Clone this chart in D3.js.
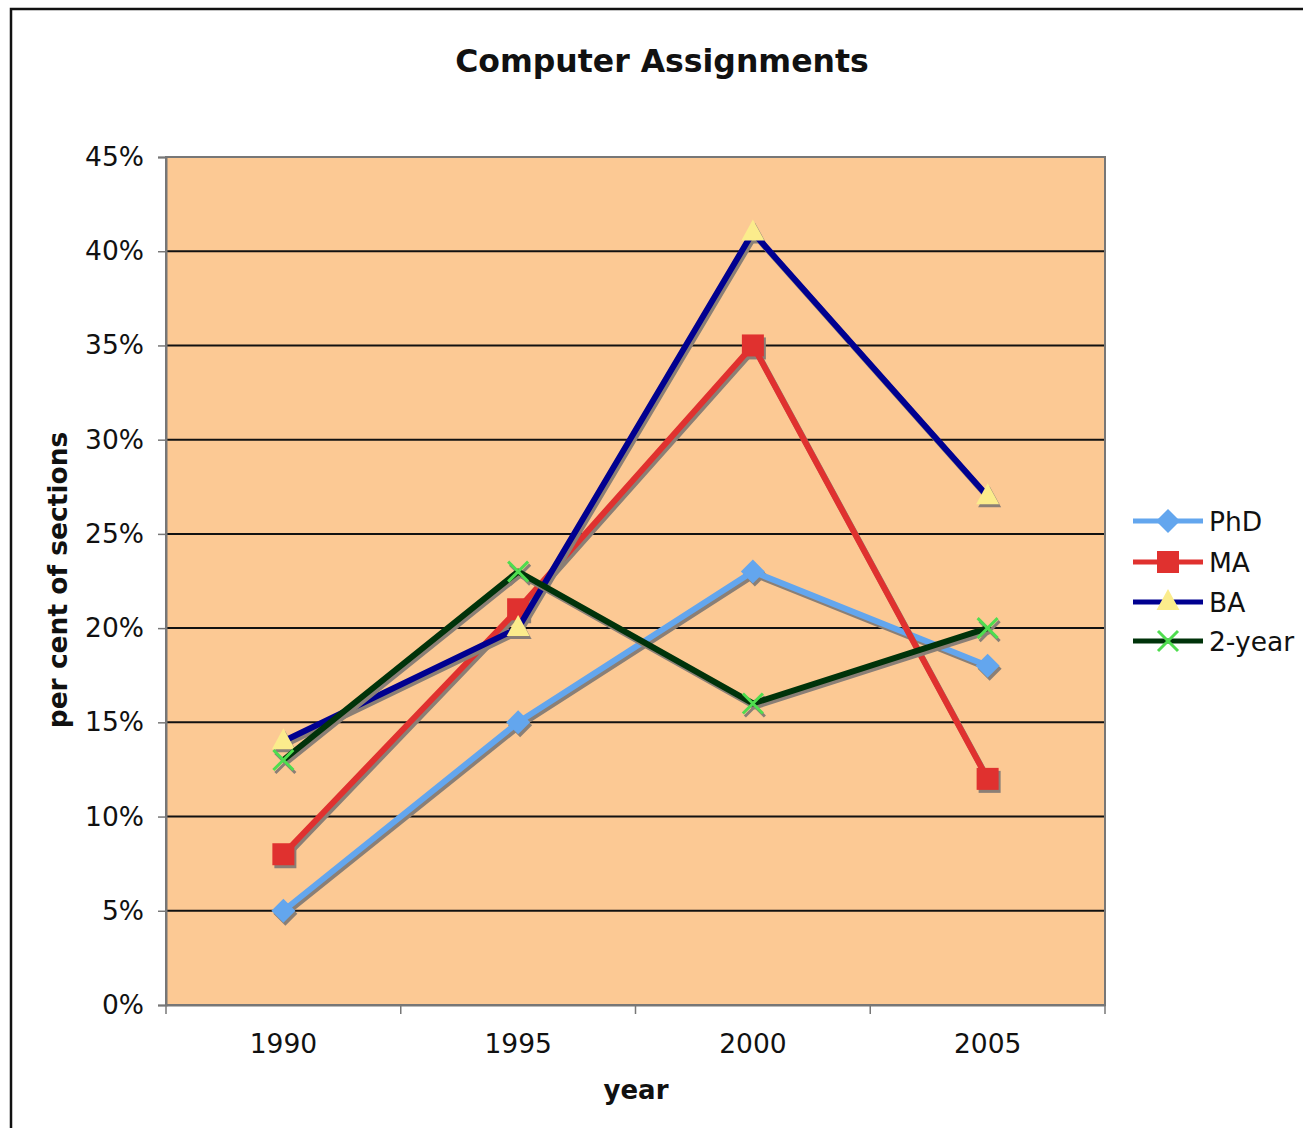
<!DOCTYPE html>
<html>
<head>
<meta charset="utf-8">
<script src="https://cdn.jsdelivr.net/npm/d3@7"></script>
<style>
  body { margin: 0; background: #fff; }
  svg { display: block; font-family: "DejaVu Sans", Verdana, sans-serif; }
</style>
</head>
<body>
<svg id="chart" width="1303" height="1128"></svg>
<script>
// data
const years = ["1990", "1995", "2000", "2005"];
const phd = [5, 15, 23, 18];
const ma = [8, 21, 35, 12];
const ba = [14, 20, 41, 27];
const twoYear = [13, 23, 16, 20];
const yTicks = [0, 5, 10, 15, 20, 25, 30, 35, 40, 45];

const series = [
  { name: "PhD", values: phd, line: "#63a6ee", marker: "#63a6ee", shape: "diamond" },
  { name: "MA", values: ma, line: "#e0312f", marker: "#e0312f", shape: "square" },
  { name: "BA", values: ba, line: "#000090", marker: "#fbec8c", shape: "triangle" },
  { name: "2-year", values: twoYear, line: "#00330a", marker: "#4fdd4f", shape: "cross" }
];

const svg = d3.select("#chart");
const plot = { left: 166, top: 157, right: 1105, bottom: 1005 };
const fontSize = 26.5;

// outer frame
svg.append("rect")
  .attr("x", 11).attr("y", 9)
  .attr("width", 1400).attr("height", 1300)
  .attr("fill", "none").attr("stroke", "#111").attr("stroke-width", 2.5);

const x = d3.scaleBand().domain(years).range([plot.left, plot.right]);
const y = d3.scaleLinear().domain([0, 45]).range([plot.bottom, plot.top]);
const cx = d => x(d) + x.bandwidth() / 2;

// plot background
svg.append("rect")
  .attr("x", plot.left).attr("y", plot.top)
  .attr("width", plot.right - plot.left).attr("height", plot.bottom - plot.top)
  .attr("fill", "#fcc994");

// gridlines
svg.append("g").selectAll("line")
  .data(yTicks.filter(t => t > 0 && t < 45))
  .join("line")
  .attr("x1", plot.left).attr("x2", plot.right)
  .attr("y1", d => y(d)).attr("y2", d => y(d))
  .attr("stroke", "#111").attr("stroke-width", 2);

// plot border
svg.append("rect")
  .attr("x", plot.left).attr("y", plot.top)
  .attr("width", plot.right - plot.left).attr("height", plot.bottom - plot.top)
  .attr("fill", "none").attr("stroke", "#777").attr("stroke-width", 2);

// y axis
const yAxis = svg.append("g")
  .attr("transform", `translate(${plot.left},0)`)
  .call(d3.axisLeft(y).tickValues(yTicks).tickFormat(d => d + "%").tickSize(8).tickPadding(14));
yAxis.select(".domain").attr("stroke", "#777").attr("stroke-width", 2);
yAxis.selectAll(".tick line").attr("stroke", "#777").attr("stroke-width", 1.5);
yAxis.selectAll("text").attr("font-size", fontSize).attr("fill", "#111")
  .attr("font-family", "DejaVu Sans, Verdana, sans-serif");

// x axis
const xAxis = svg.append("g")
  .attr("transform", `translate(0,${plot.bottom})`)
  .call(d3.axisBottom(x).tickSize(0).tickPadding(29));
xAxis.select(".domain").attr("stroke", "#777").attr("stroke-width", 2);
xAxis.selectAll("text").attr("font-size", fontSize).attr("fill", "#111")
  .attr("font-family", "DejaVu Sans, Verdana, sans-serif");
// tick marks between categories
svg.append("g").selectAll("line")
  .data(years.concat(["end"]))
  .join("line")
  .attr("x1", (d, i) => plot.left + i * x.step())
  .attr("x2", (d, i) => plot.left + i * x.step())
  .attr("y1", plot.bottom).attr("y2", plot.bottom + 9)
  .attr("stroke", "#777").attr("stroke-width", 1.5);

// titles
svg.append("text")
  .attr("x", 662).attr("y", 72)
  .attr("text-anchor", "middle")
  .attr("font-size", 31.5).attr("font-weight", "bold").attr("fill", "#111")
  .text("Computer Assignments");

svg.append("text")
  .attr("x", 636).attr("y", 1099)
  .attr("text-anchor", "middle")
  .attr("font-size", 26).attr("font-weight", "bold").attr("fill", "#111")
  .text("year");

svg.append("text")
  .attr("transform", "translate(67,580) rotate(-90)")
  .attr("text-anchor", "middle")
  .attr("font-size", 26.5).attr("font-weight", "bold").attr("fill", "#111")
  .text("per cent of sections");

// markers
function drawMarker(g, shape, color, px, py) {
  if (shape === "diamond") {
    g.append("path")
      .attr("d", `M${px},${py - 12}L${px + 12},${py}L${px},${py + 12}L${px - 12},${py}Z`)
      .attr("fill", color);
  } else if (shape === "square") {
    g.append("rect")
      .attr("x", px - 11).attr("y", py - 11).attr("width", 22).attr("height", 22)
      .attr("fill", color);
  } else if (shape === "triangle") {
    g.append("path")
      .attr("d", `M${px},${py - 13}L${px + 11.5},${py + 8}L${px - 11.5},${py + 8}Z`)
      .attr("fill", color);
  } else if (shape === "cross") {
    g.append("path")
      .attr("d", `M${px - 10},${py - 10}L${px + 10},${py + 10}M${px - 10},${py + 10}L${px + 10},${py - 10}`)
      .attr("stroke", color).attr("stroke-width", 3).attr("fill", "none");
  }
}

const line = d3.line().x((d, i) => cx(years[i])).y(d => y(d));

series.forEach(s => {
  const g = svg.append("g");
  // shadow
  const sh = g.append("g").attr("transform", "translate(2,3)");
  sh.append("path").attr("d", line(s.values))
    .attr("fill", "none").attr("stroke", "#8a7f76").attr("stroke-width", 6)
    .attr("stroke-linejoin", "round");
  s.values.forEach((v, i) => drawMarker(sh, s.shape, "#8a7f76", cx(years[i]), y(v)));
  g.append("path").attr("d", line(s.values))
    .attr("fill", "none").attr("stroke", s.line).attr("stroke-width", 6)
    .attr("stroke-linejoin", "round");
  s.values.forEach((v, i) => drawMarker(g, s.shape, s.marker, cx(years[i]), y(v)));
});

// legend
const legend = svg.append("g");
const legendY = [521, 562, 602, 641];
series.forEach((s, i) => {
  const ly = legendY[i];
  legend.append("line")
    .attr("x1", 1133).attr("x2", 1203).attr("y1", ly).attr("y2", ly)
    .attr("stroke", s.line).attr("stroke-width", 5);
  drawMarker(legend, s.shape, s.marker, 1168, ly);
  legend.append("text")
    .attr("x", 1209).attr("y", ly + 10)
    .attr("font-size", fontSize).attr("fill", "#111")
    .text(s.name);
});
</script>
</body>
</html>
